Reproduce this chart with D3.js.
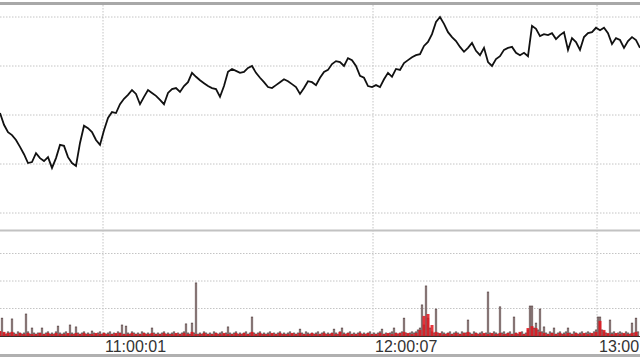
<!DOCTYPE html>
<html lang="en">
<head>
    <meta charset="UTF-8">
    <title>Intraday price and volume</title>
    <script src="https://d3js.org/d3.v7.min.js"></script>
    <style>
        body { margin: 0; background: #fff; }
        #chart svg { display: block; }
        .grid line { stroke: #c4c4c4; stroke-width: 1; stroke-dasharray: 1.5, 1.5; }
        .tick-label { font: 16px "Liberation Sans", Arial, sans-serif; fill: #333; }
    </style>
</head>
<body>
    <div id="chart"></div>
    <script>
        // price sampled every 2 buckets (bucket 0..320)
        var price = [
            1540.4, 1538.0, 1536.5, 1535.9, 1534.9, 1533.5, 1532.0, 1530.2, 1530.4, 1532.2,
            1531.2, 1530.6, 1531.4, 1529.2, 1531.2, 1533.9, 1533.7, 1531.4, 1530.2, 1529.6,
            1534.3, 1537.8, 1537.3, 1536.5, 1534.9, 1533.9, 1536.9, 1539.4, 1540.6, 1540.4,
            1542.2, 1543.3, 1544.1, 1545.1, 1544.3, 1542.2, 1543.7, 1545.1, 1544.5, 1543.9,
            1543.1, 1542.2, 1544.5, 1545.3, 1545.5, 1544.7, 1545.9, 1546.7, 1548.6, 1547.8,
            1547.1, 1546.5, 1545.9, 1545.5, 1545.3, 1543.7, 1545.9, 1548.8, 1549.4, 1549.0,
            1548.6, 1548.8, 1549.6, 1550.0, 1548.6, 1547.6, 1546.7, 1545.7, 1545.5, 1546.1,
            1546.7, 1547.3, 1546.9, 1546.3, 1545.7, 1544.3, 1545.5, 1546.9, 1546.7, 1546.1,
            1547.6, 1548.8, 1549.2, 1550.4, 1551.0, 1550.8, 1550.0, 1551.6, 1551.2, 1550.0,
            1548.0, 1547.6, 1545.9, 1545.7, 1546.1, 1545.7, 1547.3, 1548.6, 1547.8, 1549.4,
            1549.2, 1550.6, 1551.2, 1551.8, 1552.2, 1552.4, 1554.1, 1554.9, 1556.5, 1559.0,
            1560.0, 1558.6, 1556.9, 1555.9, 1555.1, 1553.9, 1552.9, 1553.7, 1554.7, 1553.1,
            1552.2, 1553.7, 1550.8, 1550.0, 1551.4, 1552.0, 1553.3, 1553.7, 1553.9, 1552.7,
            1552.2, 1552.7, 1552.0, 1558.2, 1557.6, 1556.1, 1556.5, 1556.3, 1556.7, 1555.5,
            1556.3, 1556.9, 1553.3, 1555.7, 1554.9, 1553.3, 1555.9, 1556.7, 1556.9, 1557.8,
            1557.3, 1557.8, 1556.7, 1554.5, 1555.7, 1555.3, 1553.7, 1555.1, 1555.9, 1555.3,
            1553.7
        ];

        // total volume, one value per bucket
        var volume = [
            15, 65, 11, 7, 15, 11, 62, 11, 7, 15, 11, 7, 11, 80, 15, 7, 29, 11, 7, 11,
            11, 29, 7, 11, 15, 7, 11, 7, 15, 36, 11, 7, 11, 15, 7, 40, 11, 7, 33, 11,
            7, 11, 15, 7, 11, 7, 18, 11, 7, 11, 15, 7, 11, 7, 11, 15, 7, 11, 7, 15,
            11, 40, 7, 36, 11, 7, 15, 11, 7, 11, 7, 15, 11, 7, 11, 7, 29, 11, 7, 11,
            7, 11, 15, 7, 11, 7, 11, 15, 7, 11, 7, 11, 15, 44, 11, 7, 47, 11, 193, 7,
            11, 7, 15, 11, 7, 11, 7, 15, 11, 7, 11, 15, 7, 11, 33, 11, 7, 11, 15, 7,
            11, 7, 11, 15, 7, 11, 69, 11, 7, 11, 15, 7, 11, 7, 11, 15, 7, 11, 7, 11,
            15, 7, 11, 7, 11, 15, 7, 11, 7, 11, 25, 11, 7, 15, 11, 7, 11, 7, 11, 15,
            7, 11, 15, 7, 11, 7, 11, 25, 11, 7, 15, 29, 11, 7, 11, 15, 7, 11, 7, 11,
            15, 7, 11, 7, 11, 15, 7, 11, 7, 11, 15, 25, 7, 11, 7, 11, 15, 29, 11, 7,
            11, 15, 65, 11, 7, 11, 15, 11, 15, 22, 29, 113, 40, 182, 65, 29, 15, 11, 98, 11,
            7, 15, 11, 7, 11, 15, 7, 11, 15, 11, 7, 15, 11, 11, 58, 11, 7, 15, 11, 7,
            11, 15, 7, 11, 160, 11, 7, 15, 11, 7, 106, 11, 15, 7, 11, 15, 7, 69, 11, 7,
            11, 15, 7, 11, 22, 109, 109, 29, 47, 22, 98, 15, 33, 11, 7, 15, 11, 29, 7, 11,
            15, 7, 11, 15, 29, 11, 7, 15, 11, 7, 11, 15, 7, 11, 15, 11, 7, 15, 22, 69,
            69, 22, 15, 11, 7, 58, 11, 15, 7, 11, 15, 11, 7, 15, 11, 7, 47, 11, 65, 15
        ];

        // red volume, every 2 buckets
        var redVolume = [
            18, 15, 11, 15, 7, 11, 7, 11, 7, 7, 11, 7, 11, 7, 11, 7, 7, 11, 7, 11,
            7, 11, 7, 7, 11, 7, 11, 7, 7, 11, 11, 7, 7, 11, 7, 7, 11, 7, 11, 7,
            7, 11, 7, 7, 11, 7, 11, 7, 15, 7, 7, 11, 7, 7, 11, 7, 11, 7, 7, 11,
            7, 11, 7, 15, 7, 11, 7, 7, 11, 7, 11, 7, 7, 11, 7, 11, 7, 7, 11, 7,
            7, 11, 7, 11, 7, 15, 7, 11, 7, 7, 11, 7, 11, 7, 7, 11, 7, 11, 7, 11,
            11, 15, 11, 7, 11, 22, 73, 80, 40, 15, 11, 7, 11, 7, 11, 7, 11, 15, 7, 11,
            7, 11, 7, 11, 7, 11, 7, 11, 7, 11, 15, 7, 29, 36, 29, 15, 11, 7, 11, 7,
            11, 7, 11, 7, 11, 7, 11, 7, 11, 15, 55, 22, 11, 7, 11, 7, 11, 7, 11, 15
        ];

        var priceTicks = [1520, 1530, 1540, 1550, 1560];
        var volumeTicks = [100, 200, 300];
        var timeTicks = [51.5, 186.5, 298.5];
        var timeLabels = ["11:00:01", "12:00:07", "13:00:09"];

        var width = 640, height = 360;
        var svg = d3.select("#chart").append("svg")
            .attr("width", width)
            .attr("height", height);

        var x = d3.scaleLinear().domain([0, 320]).range([0, width]);
        var yPrice = d3.scaleLinear().domain([1520, 1560]).range([213, 17]);
        var yVol = d3.scaleLinear().domain([0, 300]).range([336, 253.5]);

        // horizontal grid, price panel
        svg.append("g").attr("class", "grid")
            .selectAll("line").data(priceTicks).join("line")
            .attr("x1", 0).attr("x2", width)
            .attr("y1", d => yPrice(d)).attr("y2", d => yPrice(d));

        // horizontal grid, volume panel
        svg.append("g").attr("class", "grid")
            .selectAll("line").data(volumeTicks).join("line")
            .attr("x1", 0).attr("x2", width)
            .attr("y1", d => yVol(d)).attr("y2", d => yVol(d));

        // vertical grid through both panels
        svg.append("g").attr("class", "grid")
            .selectAll("line").data(timeTicks).join("line")
            .attr("x1", d => x(d)).attr("x2", d => x(d))
            .attr("y1", 5).attr("y2", 337);

        // volume bars
        svg.append("g")
            .selectAll("rect").data(volume).join("rect")
            .attr("x", (d, i) => x(i) - 0.8)
            .attr("width", 1.6)
            .attr("y", d => yVol(d))
            .attr("height", d => yVol(0) - yVol(d))
            .attr("fill", "#b3a3a3")
            .attr("stroke", "#4a3535")
            .attr("stroke-width", 0.6);

        svg.append("g")
            .selectAll("rect").data(redVolume).join("rect")
            .attr("x", (d, i) => x(i * 2) - 1.5)
            .attr("width", 3)
            .attr("y", d => yVol(d))
            .attr("height", d => yVol(0) - yVol(d))
            .attr("fill", "#e3141c")
            .attr("opacity", 0.85);

        svg.append("line")
            .attr("x1", 0).attr("x2", width)
            .attr("y1", yVol(0) + 0.5).attr("y2", yVol(0) + 0.5)
            .attr("stroke", "#3a2a2a").attr("stroke-width", 1);

        // price line
        var line = d3.line()
            .x((d, i) => x(i * 2))
            .y(d => yPrice(d));

        svg.append("path")
            .datum(price)
            .attr("d", line)
            .attr("fill", "none")
            .attr("stroke", "#111")
            .attr("stroke-width", 1.8)
            .attr("stroke-linejoin", "miter");

        // panel borders
        svg.append("rect").attr("x", 0).attr("y", 2).attr("width", width).attr("height", 3).attr("fill", "#a8a8a8");
        svg.append("rect").attr("x", 0).attr("y", 229.5).attr("width", width).attr("height", 2).attr("fill", "#c2c2c2");
        svg.append("rect").attr("x", 0).attr("y", 354).attr("width", width).attr("height", 3).attr("fill", "#b0b0b0");

        // time labels, left aligned on their grid line
        svg.append("g")
            .selectAll("text").data(timeTicks).join("text")
            .attr("class", "tick-label")
            .attr("x", d => x(d) + 2)
            .attr("y", 352)
            .text((d, i) => timeLabels[i]);
    </script>
</body>
</html>
